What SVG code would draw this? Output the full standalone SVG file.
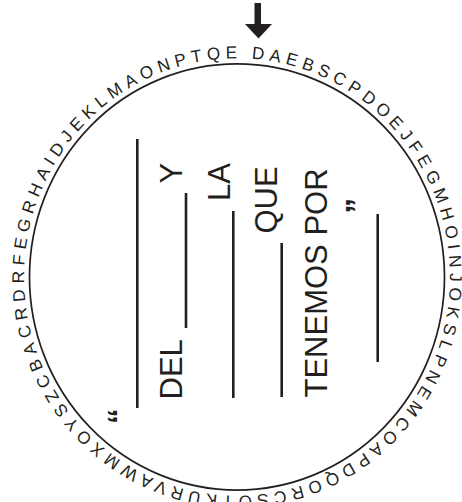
<svg xmlns="http://www.w3.org/2000/svg" width="462" height="502" viewBox="0 0 462 502">
<style>
.ring{font-family:"Liberation Sans",Arial,sans-serif;font-size:17px;fill:#231f20;letter-spacing:5.15px}
.big{font-family:"Liberation Sans",Arial,sans-serif;font-size:31px;fill:#231f20}
.q{font-family:"Liberation Sans",Arial,sans-serif;font-size:31px;font-weight:bold;fill:#231f20}
.blank{stroke:#231f20;stroke-width:2.6;fill:none}
</style>
<defs>
<path id="ringPath" d="M 14.49,-212.51 A 213 213 0 1 1 -14.49,212.51 A 213 213 0 1 1 14.49,-212.51"/>
</defs>
<g id="wheel" transform="translate(237,277) scale(1,1.027)">
<circle cx="0" cy="0" r="207.5" fill="none" stroke="#231f20" stroke-width="1.7"/>
<text class="ring"><textPath href="#ringPath">DAEBSCPDOEJFEGMHOINJOKSLPNEMCOAPDQORCSOTKURVAWMXOYSZCBACRDRFEGRHAIDJEKLMAONPTQE</textPath></text>
</g>
<g id="arrow">
<rect x="254.5" y="3" width="6.5" height="22" fill="#231f20"/>
<polygon points="245,24 272,24 258.5,38.5" fill="#231f20"/>
</g>
<g id="connectors">
<line class="blank" x1="137.3" y1="139" x2="137.3" y2="408"/>
<line class="blank" x1="186" y1="193" x2="186" y2="328"/>
<line class="blank" x1="233.3" y1="211" x2="233.3" y2="398"/>
<line class="blank" x1="281.7" y1="243" x2="281.7" y2="397"/>
<line class="blank" x1="377.7" y1="214" x2="377.7" y2="362"/>
</g>
<g id="texts">
<text class="q" transform="translate(130,424) rotate(-90)">“</text>
<text class="big" transform="translate(182,399.5) rotate(-90)">DEL</text>
<text class="big" transform="translate(182,183.5) rotate(-90)">Y</text>
<text class="big" transform="translate(230,201) rotate(-90)">LA</text>
<text class="big" transform="translate(277,233.5) rotate(-90)">QUE</text>
<text class="big" transform="translate(327,397.5) rotate(-90)">TENEMOS POR</text>
<text class="q" transform="translate(368,213.5) rotate(-90)">”</text>
</g>
</svg>
